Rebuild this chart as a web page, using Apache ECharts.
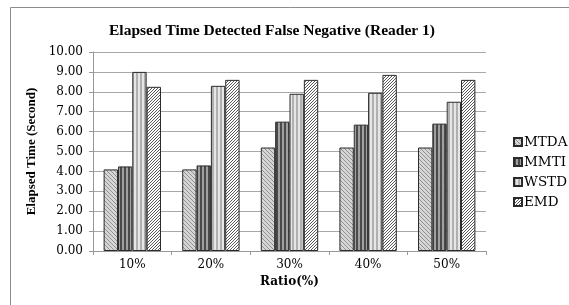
<!DOCTYPE html>
<html>
<head>
<meta charset="utf-8">
<script src="https://cdn.jsdelivr.net/npm/echarts@6/dist/echarts.min.js"></script>
<style>
  html, body { margin: 0; padding: 0; background: #fff; }
  #chart { width: 569px; height: 305px; }
</style>
</head>
<body>
<div id="chart"></div>
<script>
var ratios = ['10%', '20%', '30%', '40%', '50%'];
var seriesNames = ['MTDA', 'MMTI', 'WSTD', 'EMD'];
var mtda = [4.10, 4.10, 5.20, 5.20, 5.20];
var mmti = [4.25, 4.30, 6.50, 6.35, 6.40];
var wstd = [9.00, 8.30, 7.90, 7.95, 7.50];
var emd = [8.25, 8.60, 8.60, 8.85, 8.60];
var yTicks = [0, 1, 2, 3, 4, 5, 6, 7, 8, 9, 10];

// little canvas tiles used as bar fill patterns
function tile(w, h, draw) {
    var c = document.createElement('canvas');
    c.width = w; c.height = h;
    draw(c.getContext('2d'));
    return { image: c, repeat: 'repeat' };
}

var patterns = [
    // MTDA: light gray, fine backslash hatch
    tile(4, 4, function (g) {
        g.fillStyle = '#d6d6d6'; g.fillRect(0, 0, 4, 4);
        g.fillStyle = '#909090';
        for (var i = 0; i < 4; i++) g.fillRect(i, i, 1, 1);
    }),
    // MMTI: dark vertical stripes
    tile(4, 1, function (g) {
        g.fillStyle = '#a0a0a0'; g.fillRect(0, 0, 4, 1);
        g.fillStyle = '#4a4a4a'; g.fillRect(0, 0, 2, 1);
    }),
    // WSTD: light vertical stripes
    tile(4, 1, function (g) {
        g.fillStyle = '#e6e6e6'; g.fillRect(0, 0, 4, 1);
        g.fillStyle = '#b0b0b0'; g.fillRect(0, 0, 2, 1);
    }),
    // EMD: white with dark zigzag diagonals
    tile(6, 6, function (g) {
        g.fillStyle = '#ffffff'; g.fillRect(0, 0, 6, 6);
        g.fillStyle = '#5a5a5a';
        for (var i = 0; i < 6; i++) {
            g.fillRect(5 - i, i, 1, 1);
            g.fillRect((8 - i) % 6, i, 1, 1);
        }
    })
];

var values = [mtda, mmti, wstd, emd];
var series = [];
for (var k = 0; k < seriesNames.length; k++) {
    series.push({
        name: seriesNames[k],
        type: 'bar',
        data: values[k],
        barGap: '0%',
        barCategoryGap: '27%',
        itemStyle: {
            color: patterns[k],
            borderColor: '#2a2a2a',
            borderWidth: 1
        }
    });
}

var serif = '"Liberation Serif", "DejaVu Serif", serif';
var wide = '"DejaVu Serif", serif';

var myChart = echarts.init(document.getElementById('chart'));
myChart.setOption({
    animation: false,
    backgroundColor: '#ffffff',
    graphic: [
        {
            type: 'rect',
            shape: { x: 10.5, y: 7.5, width: 600, height: 400 },
            style: { fill: 'none', stroke: '#8c8c8c', lineWidth: 1 },
            z: -1
        }
    ],
    title: {
        text: 'Elapsed Time Detected False Negative (Reader 1)',
        left: 267,
        top: 18,
        textAlign: 'center',
        textStyle: { fontFamily: serif, fontSize: 15.5, fontWeight: 'bold', color: '#000' }
    },
    legend: {
        data: seriesNames,
        orient: 'vertical',
        left: 508,
        top: 130,
        itemWidth: 8,
        itemHeight: 8,
        itemGap: 6,
        icon: 'rect',
        textStyle: { fontFamily: wide, fontSize: 13.5, color: '#000', padding: [0, 0, 0, -3] }
    },
    grid: {
        left: 93,
        top: 52,
        width: 393,
        height: 199,
        containLabel: false
    },
    xAxis: {
        type: 'category',
        data: ratios,
        name: 'Ratio(%)',
        nameLocation: 'middle',
        nameGap: 18,
        nameTextStyle: { fontFamily: wide, fontSize: 12, fontWeight: 'bold', color: '#000' },
        axisLine: { lineStyle: { color: '#999' } },
        axisTick: { show: true, length: 4, lineStyle: { color: '#999' } },
        axisLabel: { fontFamily: wide, fontSize: 12, color: '#000', margin: 8 }
    },
    yAxis: {
        type: 'value',
        min: yTicks[0],
        max: yTicks[yTicks.length - 1],
        interval: 1,
        name: 'Elapsed Time (Second)',
        nameLocation: 'middle',
        nameGap: 47,
        nameTextStyle: { fontFamily: serif, fontSize: 13, fontWeight: 'bold', color: '#000' },
        axisLine: { show: true, lineStyle: { color: '#999' } },
        axisTick: { show: true, length: 4, lineStyle: { color: '#999' } },
        splitLine: { lineStyle: { color: '#a8a8a8' } },
        axisLabel: {
            fontFamily: wide, fontSize: 12, color: '#000', margin: 10,
            formatter: function (v) { return v.toFixed(2); }
        }
    },
    series: series
});
</script>
</body>
</html>
